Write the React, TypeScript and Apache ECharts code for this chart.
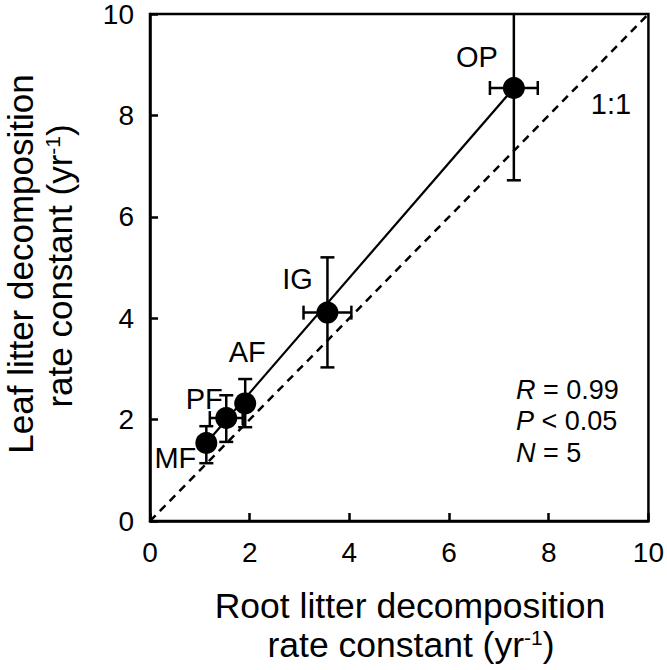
import React, { useEffect, useRef } from "react";
import * as echarts from "echarts";

const sites = ["MF", "PF", "AF", "IG", "OP"];
const rootK = [1.13, 1.53, 1.91, 3.56, 7.3];
const rootErr = [0.15, 0.33, 0.12, 0.48, 0.48];
const leafK = [1.54, 2.03, 2.32, 4.11, 8.54];
const leafLow = [1.14, 1.56, 1.85, 3.03, 6.72];
const leafHigh = [1.87, 2.48, 2.8, 5.2, 10.36];
const fitLine = [
  [1.13, 1.54],
  [7.3, 8.54],
];
const oneToOne = [
  [0, 0],
  [10, 10],
];
const statLines = ["{i|R} = 0.99", "{i|P} < 0.05", "{i|N} = 5"];

const FONT = "'Liberation Sans', Arial, sans-serif";
const labelOffsets: Record<string, number[]> = {
  MF: [-31, 15],
  PF: [-22, -19],
  AF: [2, -51],
  IG: [-30, -34],
  OP: [-37, -31],
};

export default function App() {
  const ref = useRef<HTMLDivElement>(null);
  useEffect(() => {
    if (!ref.current) return;
    const chart = echarts.init(ref.current, null, { renderer: "svg" });
    const supRich = {
      s: { fontSize: 21, fontFamily: FONT, fill: "#000", color: "#000", verticalAlign: "top", lineHeight: 22 },
    };
    const option: any = {
      animation: false,
      backgroundColor: "#fff",
      grid: {
        left: 150,
        right: 14,
        top: 13,
        bottom: 149,
        show: true,
        borderColor: "#000",
        borderWidth: 2.5,
        backgroundColor: "transparent",
      },
      xAxis: {
        type: "value",
        min: 0,
        max: 10,
        interval: 2,
        axisLine: { show: true, onZero: false, lineStyle: { color: "#000", width: 2.5 } },
        axisTick: { show: true, inside: true, length: 8, lineStyle: { color: "#000", width: 2.5 } },
        axisLabel: { fontSize: 28, color: "#000", fontFamily: FONT, margin: 17 },
        splitLine: { show: false },
      },
      yAxis: {
        type: "value",
        min: 0,
        max: 10,
        interval: 2,
        axisLine: { show: true, onZero: false, lineStyle: { color: "#000", width: 2.5 } },
        axisTick: { show: true, inside: true, length: 8, lineStyle: { color: "#000", width: 2.5 } },
        axisLabel: { fontSize: 28, color: "#000", fontFamily: FONT, margin: 16 },
        splitLine: { show: false },
      },
      series: [
        {
          type: "line",
          data: oneToOne,
          showSymbol: false,
          symbol: "none",
          lineStyle: { color: "#000", width: 2.5, type: [8, 6], opacity: 1 },
          z: 1,
          silent: true,
        },
        {
          type: "line",
          data: fitLine,
          showSymbol: false,
          symbol: "none",
          lineStyle: { color: "#000", width: 2.2, opacity: 1 },
          z: 1,
          silent: true,
        },
        {
          type: "custom",
          clip: true,
          z: 2,
          silent: true,
          data: sites.map((s, i) => [
            rootK[i],
            leafK[i],
            rootK[i] - rootErr[i],
            rootK[i] + rootErr[i],
            leafLow[i],
            leafHigh[i],
          ]),
          renderItem: (params: any, api: any) => {
            const x = api.value(0);
            const y = api.value(1);
            const lo = api.coord([x, api.value(4)]);
            const hi = api.coord([x, api.value(5)]);
            const l = api.coord([api.value(2), y]);
            const r = api.coord([api.value(3), y]);
            const cap = 7;
            const st = { stroke: "#000", lineWidth: 2.5 };
            const ln = (x1: number, y1: number, x2: number, y2: number) => ({
              type: "line",
              shape: { x1, y1, x2, y2 },
              style: st,
            });
            return {
              type: "group",
              children: [
                ln(lo[0], lo[1], hi[0], hi[1]),
                ln(lo[0] - cap, lo[1], lo[0] + cap, lo[1]),
                ln(hi[0] - cap, hi[1], hi[0] + cap, hi[1]),
                ln(l[0], l[1], r[0], r[1]),
                ln(l[0], l[1] - cap, l[0], l[1] + cap),
                ln(r[0], r[1] - cap, r[0], r[1] + cap),
              ],
            };
          },
        },
        {
          type: "scatter",
          z: 3,
          silent: true,
          symbol: "circle",
          symbolSize: 22,
          itemStyle: { color: "#000", opacity: 1 },
          data: sites.map((s, i) => ({
            name: s,
            value: [rootK[i], leafK[i]],
            label: {
              show: true,
              position: "inside",
              offset: labelOffsets[s],
              formatter: s,
              fontSize: 29,
              fontFamily: FONT,
              color: "#000",
              opacity: 1,
              align: "center",
              verticalAlign: "middle",
            },
          })),
        },
      ],
      graphic: [
        {
          type: "text",
          x: 611,
          y: 104,
          style: { text: "1:1", fontSize: 29, fontFamily: FONT, fill: "#000", align: "center", verticalAlign: "middle" },
        },
        ...statLines.map((t, i) => ({
          type: "text",
          x: 516,
          y: [390, 421, 453][i],
          style: {
            text: t,
            fontSize: 27,
            fontFamily: FONT,
            fill: "#000",
            align: "left",
            verticalAlign: "middle",
            rich: { i: { fontSize: 27, fontFamily: FONT, fontStyle: "italic", fill: "#000" } },
          },
        })),
        {
          type: "text",
          x: 410,
          y: 606,
          style: {
            text: "Root litter decomposition",
            fontSize: 35.5,
            fontFamily: FONT,
            fill: "#000",
            align: "center",
            verticalAlign: "middle",
          },
        },
        {
          type: "text",
          x: 411,
          y: 645,
          style: {
            text: "rate constant (yr{s|-1})",
            fontSize: 35.5,
            fontFamily: FONT,
            fill: "#000",
            align: "center",
            verticalAlign: "middle",
            rich: supRich,
          },
        },
        {
          type: "text",
          x: 20,
          y: 264,
          rotation: Math.PI / 2,
          style: {
            text: "Leaf litter decomposition",
            fontSize: 35,
            fontFamily: FONT,
            fill: "#000",
            align: "center",
            verticalAlign: "middle",
          },
        },
        {
          type: "text",
          x: 59,
          y: 266,
          rotation: Math.PI / 2,
          style: {
            text: "rate constant (yr{s|-1})",
            fontSize: 35,
            fontFamily: FONT,
            fill: "#000",
            align: "center",
            verticalAlign: "middle",
            rich: supRich,
          },
        },
      ],
    };
    chart.setOption(option);
    return () => chart.dispose();
  }, []);
  return (
    <div
      ref={ref}
      style={{ position: "fixed", left: 0, top: 0, width: 667, height: 670, background: "#fff" }}
    />
  );
}
